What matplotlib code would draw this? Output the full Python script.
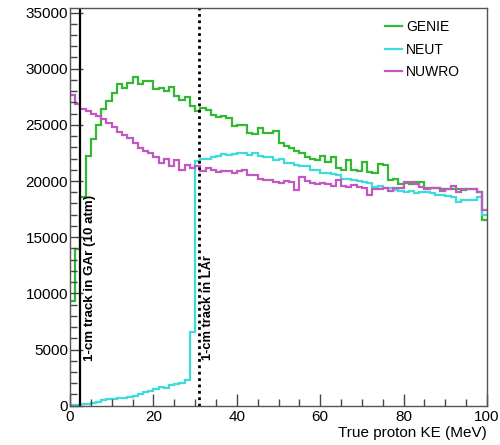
import numpy as np
import matplotlib
matplotlib.use("Agg")
import matplotlib.pyplot as plt

plt.rcParams['font.family'] = ['Liberation Sans', 'DejaVu Sans']

# 80 bins of 1.25 MeV between 0 and 100 MeV
bin_edges = np.linspace(0, 100, 81)

genie = [9300, 13950, 18600, 22200, 23750, 25000, 26400, 27100, 27800, 28650,
         28250, 28750, 29250, 28600, 28900, 28900, 28200, 28250, 28000, 28400,
         27550, 27200, 27500, 26700, 26200, 26500, 26300, 25900, 25700, 25800,
         25600, 24900, 25000, 24950, 24250, 24150, 24700, 24250, 24300, 24450,
         23400, 23100, 22900, 22650, 22500, 22100, 22000, 21900, 22200, 21700,
         22100, 21200, 21000, 21900, 21000, 20900, 21700, 20800, 20700, 21500,
         21400, 20100, 20200, 19700, 19800, 19750, 19950, 19900, 19400, 19350,
         19400, 19300, 19250, 19300, 19250, 19200, 19250, 19250, 19000, 16500]

neut = [30, 60, 130, 170, 280, 330, 480, 560, 620, 700,
        730, 780, 900, 1050, 1220, 1350, 1500, 1700, 1550, 1800,
        1900, 2050, 2250, 6600, 21750, 21950, 22000, 22150, 22200, 22400,
        22300, 22400, 22450, 22450, 22300, 22450, 22200, 22150, 22150, 21900,
        21950, 21600, 21600, 21450, 21300, 21300, 21000, 21000, 20700, 20700,
        20600, 20500, 20200, 20150, 20100, 20000, 19900, 19800, 19500, 19550,
        19400, 19350, 19200, 19100, 19050, 19100, 18900, 19000, 19050, 18950,
        18750, 18800, 18650, 18550, 18150, 18300, 18350, 18300, 18550, 17000]

nuwro = [27700, 26900, 26400, 26200, 25950, 25750, 25500, 25150, 24850, 24400,
         24100, 23800, 23400, 22950, 22700, 22450, 22150, 21600, 22000, 21300,
         21900, 21000, 21400, 21200, 21300, 20900, 21200, 21000, 20800, 20900,
         20850, 20700, 20850, 20950, 20550, 20500, 20200, 20100, 20050, 19950,
         19800, 20000, 19950, 19200, 20350, 20000, 19850, 19700, 19800, 19750,
         19600, 20100, 19550, 19500, 19650, 19450, 19400, 18800, 19300, 19250,
         19400, 19150, 19400, 19400, 19900, 19950, 19700, 19450, 19300, 19350,
         19350, 19150, 19300, 19600, 19050, 19250, 19250, 19250, 19050, 17400]

series_names = ["GENIE", "NEUT", "NUWRO"]
series_colors = ["#33b833", "#3fdada", "#c258c2"]

gar_cut = 2.4     # MeV, 1-cm track in gaseous argon
lar_cut = 31.0    # MeV, 1-cm track in liquid argon

fig = plt.figure(figsize=(5.0, 4.45), dpi=100)
ax = fig.add_axes([0.14, 0.0883, 0.834, 0.8937])

for vals, name, col in zip([genie, neut, nuwro], series_names, series_colors):
    ax.stairs(vals, bin_edges, baseline=None, color=col, lw=1.6, label=name)

ax.axvline(gar_cut, color="black", lw=1.6)
ax.axvline(lar_cut, color="black", lw=2.0, ls=(0, (1, 1.3)))

ax.text(gar_cut + 2.5, 4000, "1-cm track in GAr (10 atm)", rotation=90,
        ha="center", va="bottom", fontsize=9.6, fontweight="bold")
ax.text(lar_cut + 2.2, 4100, "1-cm track in LAr", rotation=90,
        ha="center", va="bottom", fontsize=9.3, fontweight="bold")

ax.set_xlim(0, 100)
ax.set_ylim(0, 35400)
ax.set_xticks(np.arange(0, 101, 20))
ax.set_xticks(np.arange(0, 101, 5), minor=True)
ax.set_yticks(np.arange(0, 35001, 5000))
ax.set_yticks(np.arange(0, 35001, 1000), minor=True)

ax.tick_params(which="major", direction="in", length=9, width=1.0,
               color="#444444", labelsize=11, pad=3)
ax.tick_params(which="minor", direction="in", length=5, width=1.0,
               color="#444444")
ax.tick_params(axis="y", which="major", pad=1.5)
for sp in ax.spines.values():
    sp.set_color("#555555")
    sp.set_linewidth(1.0)

ax.set_xlabel("True proton KE (MeV)", loc="right", fontsize=11, labelpad=1.5)

ax.legend(loc="upper left", bbox_to_anchor=(0.755, 0.97), frameon=False,
          fontsize=10, handlelength=1.2, handletextpad=0.35,
          labelspacing=0.62, borderaxespad=0, borderpad=0)

fig.savefig("out.png", dpi=100)
